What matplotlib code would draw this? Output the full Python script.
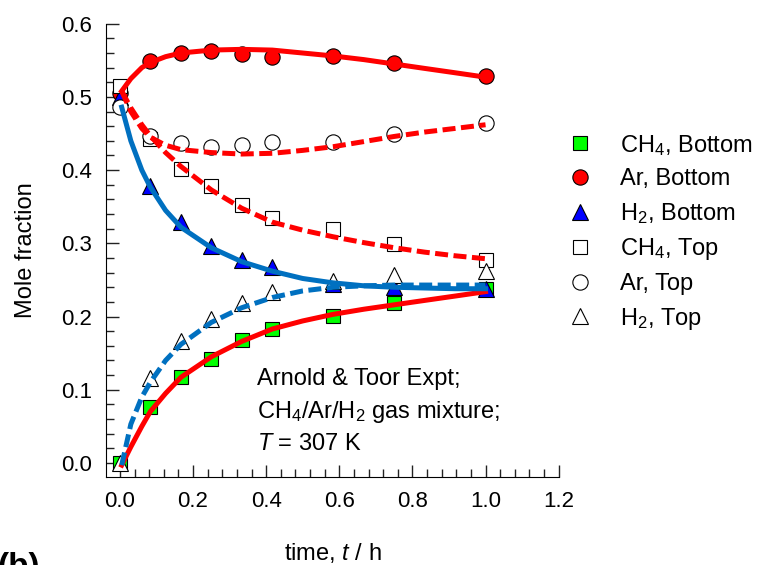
import numpy as np
import matplotlib
matplotlib.use('Agg')
from matplotlib import pyplot as plt

plt.rcParams['font.family'] = ['Liberation Sans', 'DejaVu Sans']
plt.rcParams['mathtext.fontset'] = 'custom'
plt.rcParams['mathtext.rm'] = 'Liberation Sans'
plt.rcParams['mathtext.it'] = 'Liberation Sans:italic'

# experimental data (time in h)
t_exp = [0.0, 0.083, 0.167, 0.25, 0.333, 0.417, 0.583, 0.75, 1.0]
ch4_bottom = [0.0, 0.077, 0.118, 0.142, 0.168, 0.183, 0.201, 0.219, 0.237]
ar_bottom = [0.505, 0.549, 0.560, 0.563, 0.558, 0.555, 0.556, 0.546, 0.529]
h2_bottom = [0.500, 0.378, 0.329, 0.296, 0.277, 0.267, 0.244, 0.240, 0.237]
ch4_top = [0.515, 0.442, 0.401, 0.378, 0.353, 0.335, 0.319, 0.299, 0.277]
ar_top = [0.486, 0.447, 0.437, 0.431, 0.435, 0.438, 0.438, 0.449, 0.464]
h2_top = [0.0, 0.116, 0.166, 0.196, 0.219, 0.233, 0.248, 0.257, 0.262]

# model curves
t_mod = [0.005, 0.03, 0.06, 0.083, 0.125, 0.167, 0.25, 0.333, 0.417, 0.5,
         0.583, 0.667, 0.75, 0.833, 0.917, 1.0]
ar_bottom_mod = [0.508, 0.525, 0.540, 0.547, 0.555, 0.560, 0.564, 0.565, 0.564,
                 0.560, 0.556, 0.551, 0.545, 0.539, 0.533, 0.527]
ar_top_mod = [0.508, 0.480, 0.457, 0.445, 0.434, 0.428, 0.424, 0.422, 0.423,
              0.427, 0.432, 0.439, 0.446, 0.452, 0.457, 0.462]
ch4_top_mod = [0.508, 0.485, 0.462, 0.447, 0.424, 0.405, 0.373, 0.348, 0.329,
               0.318, 0.309, 0.301, 0.294, 0.288, 0.283, 0.279]
h2_bottom_mod = [0.486, 0.440, 0.400, 0.377, 0.345, 0.322, 0.294, 0.275, 0.262,
                 0.252, 0.246, 0.242, 0.240, 0.239, 0.238, 0.238]
h2_top_mod = [-0.003, 0.053, 0.090, 0.110, 0.140, 0.162, 0.192, 0.212, 0.226,
              0.235, 0.240, 0.242, 0.243, 0.243, 0.243, 0.243]
ch4_bottom_mod = [-0.003, 0.022, 0.050, 0.070, 0.095, 0.117, 0.145, 0.166, 0.183,
                  0.194, 0.203, 0.210, 0.216, 0.222, 0.228, 0.234]

RED = '#ff0000'
BLUE = '#0070c0'

fig = plt.figure(figsize=(7.57, 5.65), dpi=100)
ax = fig.add_axes([0.140, 0.156, 0.598, 0.802])

ms = 11
ax.plot(t_exp, ch4_bottom, 's', ms=ms-1, mfc='#00ff00', mec='black', mew=0.8,
        label='CH$_4$, Bottom', zorder=3)
ax.plot(t_exp, ar_bottom, 'o', ms=ms, mfc=RED, mec='black', mew=0.8,
        label='Ar, Bottom', zorder=3)
ax.plot(t_exp, h2_bottom, '^', ms=ms, mfc='#0000ff', mec='black', mew=0.8,
        label='H$_2$, Bottom', zorder=3)
ax.plot(t_exp, ch4_top, 's', ms=ms-1, mfc='white', mec='black', mew=0.8,
        label='CH$_4$, Top', zorder=4)
ax.plot(t_exp, ar_top, 'o', ms=ms, mfc='white', mec='black', mew=0.8,
        label='Ar, Top', zorder=4)
ax.plot(t_exp, h2_top, '^', ms=ms, mfc='white', mec='black', mew=0.8,
        label='H$_2$, Top', zorder=4)

lw = 3.6
dash = (2.6, 1.1)
ax.plot(t_mod, ar_bottom_mod, '-', color=RED, lw=lw, zorder=5)
ax.plot(t_mod, ch4_bottom_mod, '-', color=RED, lw=lw, zorder=5)
ax.plot(t_mod, ar_top_mod, '--', color=RED, lw=lw, dashes=dash, zorder=5)
ax.plot(t_mod, ch4_top_mod, '--', color=RED, lw=lw, dashes=dash, zorder=5)
ax.plot(t_mod, h2_bottom_mod, '-', color=BLUE, lw=lw, zorder=5)
ax.plot(t_mod, h2_top_mod, '--', color=BLUE, lw=lw, dashes=dash, zorder=5)

ax.set_xlim(-0.038, 1.2)
ax.set_ylim(-0.019, 0.6)
ax.set_xticks(np.arange(0, 1.21, 0.2))
ax.set_yticks(np.arange(0, 0.61, 0.1))
ax.set_xticks(np.arange(0, 1.21, 0.04), minor=True)
ax.set_yticks(np.arange(0, 0.61, 0.02), minor=True)
ax.set_xticklabels(['%.1f' % v for v in np.arange(0, 1.21, 0.2)])
ax.set_yticklabels(['%.1f' % v for v in np.arange(0, 0.61, 0.1)])
ax.tick_params(which='both', direction='in', labelsize=16, width=1, color='#222222')
ax.tick_params(which='major', length=9, pad=10)
ax.tick_params(which='minor', length=6)
ax.spines['top'].set_visible(False)
ax.spines['right'].set_visible(False)
ax.spines['left'].set_bounds(-0.019, 0.6)
ax.spines['bottom'].set_bounds(-0.038, 1.2)

ax.set_xlabel('time, $t$ / h', fontsize=17, labelpad=21)
ax.set_ylabel('Mole fraction', fontsize=17, labelpad=17)

ax.text(0.374, 0.1066, 'Arnold & Toor Expt;', fontsize=17, va='baseline')
ax.text(0.374, 0.0615, 'CH$_4$/Ar/H$_2$ gas mixture;', fontsize=17, va='baseline')
ax.text(0.374, 0.0178, '$T$ = 307 K', fontsize=17, va='baseline')

leg = ax.legend(loc='upper left', bbox_to_anchor=(0.985, 0.796), frameon=False,
                fontsize=17, handlelength=1.0, handletextpad=1.2,
                labelspacing=0.45, borderaxespad=0.3, numpoints=1)

fig.text(-0.004, 0.023, '(b)', fontsize=24, fontweight='bold', va='top', ha='left')

fig.savefig('out.png', dpi=100)
